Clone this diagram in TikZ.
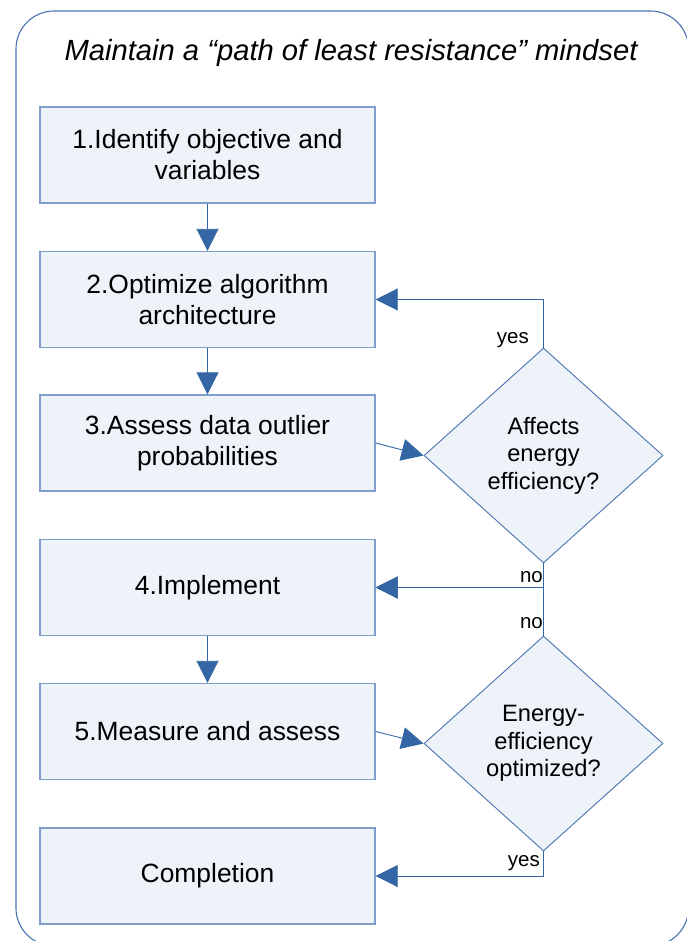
\documentclass[tikz,border=0pt]{standalone}
\usepackage{fontspec}
\setmainfont{Liberation Sans}
\usetikzlibrary{shapes.geometric,arrows.meta}
\definecolor{boxfill}{RGB}{238,243,250}
\definecolor{boxline}{RGB}{128,157,204}
\definecolor{arrowblue}{RGB}{52,101,164}
\definecolor{framecol}{RGB}{74,114,176}
\tikzset{
  stepbox/.style={draw=boxline, line width=1.4pt, fill=boxfill, minimum width=335pt, minimum height=96pt, inner sep=0pt, align=center, font=\fontsize{26.4}{31}\selectfont},
  decision/.style={diamond, draw=framecol, line width=0.9pt, fill=boxfill, minimum width=239pt, minimum height=215pt, inner sep=0pt, align=center, font=\fontsize{23.7}{27.5}\selectfont},
  conn/.style={draw=arrowblue, line width=0.9pt, -{Triangle[width=22pt,length=22pt]}},
  lbl/.style={inner sep=0pt, font=\fontsize{20.5}{24}\selectfont},
}
\begin{document}
\begin{tikzpicture}[x=1pt,y=-1pt]
\useasboundingbox (0,0) rectangle (687,941);
\draw[framecol, line width=1.1pt, rounded corners=38pt] (16,11) rectangle (688.5,946);
\node[font=\fontsize{29.2}{33}\selectfont\itshape, anchor=base] (title) at (351,61) {Maintain a “path of least resistance” mindset};
\node[stepbox] (b1) at (207.5,155) {1.Identify objective and\\variables};
\node[stepbox] (b2) at (207.5,299.5) {2.Optimize algorithm\\architecture};
\node[stepbox] (b3) at (207.5,443) {3.Assess data outlier\\probabilities};
\node[stepbox] (b4) at (207.5,587.5) {4.Implement};
\node[stepbox] (b5) at (207.5,731.5) {5.Measure and assess};
\node[stepbox] (b6) at (207.5,876) {Completion};
\node[decision] (d1) at (543.5,455.5) {Affects\\energy\\efficiency?};
\node[decision] (d2) at (543.5,743.5) {Energy-\\efficiency\\optimized?};
\draw[conn] (b1) -- (b2);
\draw[conn] (b2) -- (b3);
\draw[conn] (b4) -- (b5);
\draw[conn] (b3.east) -- (d1.west);
\draw[conn] (b5.east) -- (d2.west);
\draw[conn] (d1.north) |- (b2.east);
\draw[conn] (d1.south) |- (b4.east);
\draw[conn] (d2.north) |- (b4.east);
\draw[conn] (d2.south) |- (b6.east);
\node[lbl, anchor=east] (y1) at (529,340) {yes};
\node[lbl, anchor=east] (n1) at (543,577) {no};
\node[lbl, anchor=east] (n2) at (543,623) {no};
\node[lbl, anchor=east] (y2) at (540,863) {yes};
\end{tikzpicture}
\end{document}
